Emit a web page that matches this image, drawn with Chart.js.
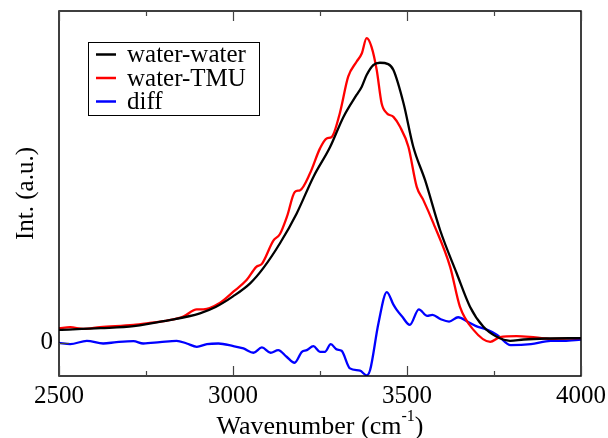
<!DOCTYPE html>
<html>
<head>
<meta charset="utf-8">
<script src="https://cdn.jsdelivr.net/npm/chart.js@4"></script>
<style>
  body { margin: 0; background: #fff; }
  #wrap { width: 608px; height: 438px; }
</style>
</head>
<body>
<div id="wrap"><canvas id="spec"></canvas></div>
<script>
'use strict';

// water-water
var wwWave = [2500, 2620, 2715, 2810, 2905, 2950, 3000, 3050, 3087, 3135, 3183, 3231, 3279, 3317, 3355, 3370, 3384, 3403, 3422, 3446, 3461, 3490, 3518, 3552, 3595, 3643, 3681, 3719, 3758, 3796, 3835, 3900, 4000];
var wwInt  = [0.39, 0.44, 0.50, 0.67, 0.89, 1.08, 1.40, 1.80, 2.25, 3.00, 3.90, 5.00, 5.90, 6.80, 7.47, 7.72, 8.07, 8.37, 8.44, 8.40, 8.22, 7.22, 5.91, 4.90, 3.40, 2.09, 1.09, 0.49, 0.18, 0.06, 0.10, 0.13, 0.14];

// water-TMU
var tmuWave = [2500, 2532, 2570, 2618, 2714, 2761, 2810, 2857, 2896, 2915, 2963, 3001, 3039, 3067, 3083, 3116, 3135, 3155, 3178, 3193, 3221, 3250, 3269, 3284, 3307, 3331, 3355, 3370, 3384, 3398, 3413, 3427, 3442, 3461, 3480, 3504, 3528, 3547, 3576, 3624, 3652, 3691, 3739, 3767, 3815, 3853, 3911, 4000];
var tmuInt  = [0.44, 0.47, 0.42, 0.47, 0.54, 0.60, 0.67, 0.79, 1.01, 1.01, 1.21, 1.54, 1.89, 2.29, 2.38, 3.08, 3.28, 3.80, 4.55, 4.60, 5.10, 5.86, 6.16, 6.21, 6.92, 8.02, 8.47, 8.72, 9.18, 8.92, 8.22, 7.22, 6.92, 6.81, 6.51, 5.91, 4.70, 4.30, 3.60, 2.29, 1.09, 0.39, 0.03, 0.17, 0.20, 0.18, 0.12, 0.14];

// diff
var diffWave = [2500, 2532, 2580, 2627, 2665, 2714, 2742, 2790, 2838, 2867, 2896, 2925, 2958, 3001, 3030, 3059, 3083, 3108, 3130, 3154, 3177, 3198, 3212, 3231, 3250, 3264, 3281, 3298, 3312, 3336, 3365, 3384, 3394, 3418, 3442, 3461, 3470, 3486, 3508, 3534, 3558, 3573, 3597, 3621, 3647, 3673, 3697, 3731, 3759, 3798, 3856, 3913, 3951, 4000];
var diffInt  = [0.00, -0.04, 0.06, -0.02, 0.02, 0.05, -0.02, 0.02, 0.06, -0.02, -0.12, -0.04, -0.02, -0.10, -0.17, -0.30, -0.14, -0.30, -0.22, -0.42, -0.60, -0.27, -0.22, -0.10, -0.27, -0.27, -0.04, -0.20, -0.24, -0.77, -0.84, -0.98, -0.82, 0.59, 1.53, 1.15, 1.00, 0.79, 0.54, 1.01, 0.81, 0.84, 0.71, 0.64, 0.77, 0.64, 0.51, 0.39, 0.24, -0.07, -0.04, 0.06, 0.06, 0.10];

var xTicks = [2500, 3000, 3500, 4000];
var yTicks = [0];

function pts(xs, ys) {
  return xs.map(function(x, i) { return { x: x, y: ys[i] }; });
}

var SERIF = '"Liberation Serif", "DejaVu Serif", serif';

//枠・目盛・凡例・軸タイトルを描く
var decor = {
  id: 'decor',
  afterDraw: function(chart) {
    var c = chart.ctx, a = chart.chartArea;
    var xs = chart.scales.x, ys = chart.scales.y;
    c.save();
    c.strokeStyle = '#000';
    c.lineWidth = 1.5;
    c.strokeRect(a.left, a.top, a.right - a.left, a.bottom - a.top);

    // x ticks (inward, top and bottom)
    c.lineWidth = 1.2;
    c.strokeStyle = '#444';
    for (var v = 2500; v <= 4000; v += 250) {
      var px = Math.round(xs.getPixelForValue(v)) + 0.5;
      var len = (v % 500 === 0) ? 10 : 5;
      c.beginPath();
      c.moveTo(px, a.bottom); c.lineTo(px, a.bottom - len);
      c.moveTo(px, a.top); c.lineTo(px, a.top + len);
      c.stroke();
    }
    // y tick at 0
    yTicks.forEach(function(t) {
      var py = Math.round(ys.getPixelForValue(t)) + 0.5;
      c.beginPath();
      c.moveTo(a.left, py); c.lineTo(a.left + 10, py);
      c.stroke();
    });

    // legend
    var names = chart.data.datasets.map(function(d) { return d.label; });
    c.strokeStyle = '#000';
    c.lineWidth = 1;
    c.strokeRect(88.5, 42.5, 171, 73);
    c.font = '25px ' + SERIF;
    c.textBaseline = 'middle';
    c.fillStyle = '#000';
    names.forEach(function(n, i) {
      var y = 54.5 + i * 23.5;
      c.strokeStyle = chart.data.datasets[i].borderColor;
      c.lineWidth = 2.5;
      c.beginPath(); c.moveTo(96, y); c.lineTo(116, y); c.stroke();
      c.fillText(n, 127, y + 1);
    });

    // x title with superscript
    c.textBaseline = 'alphabetic';
    c.textAlign = 'left';
    var main = 'Wavenumber (cm', sup = '-1', close = ')';
    c.font = '26px ' + SERIF;
    var w1 = c.measureText(main).width, w3 = c.measureText(close).width;
    c.font = '16px ' + SERIF;
    var w2 = c.measureText(sup).width;
    var x0 = (a.left + a.right) / 2 - (w1 + w2 + w3) / 2;
    c.font = '26px ' + SERIF;
    c.fillText(main, x0, 434);
    c.font = '16px ' + SERIF;
    c.fillText(sup, x0 + w1, 421);
    c.font = '26px ' + SERIF;
    c.fillText(close, x0 + w1 + w2, 434);

    // y title
    c.translate(33, (a.top + a.bottom) / 2);
    c.rotate(-Math.PI / 2);
    c.textAlign = 'center';
    c.font = '25px ' + SERIF;
    c.fillText('Int. (a.u.)', 0, 0);
    c.restore();
  }
};

var ctx = document.getElementById('spec');
var myChart = new Chart(ctx, {
  type: 'line',
  data: {
    datasets: [
      { label: 'water-water', data: pts(wwWave, wwInt), borderColor: '#000000' },
      { label: 'water-TMU', data: pts(tmuWave, tmuInt), borderColor: '#ff0000' },
      { label: 'diff', data: pts(diffWave, diffInt), borderColor: '#0000ff' }
    ]
  },
  options: {
    responsive: true,
    maintainAspectRatio: false,
    animation: false,
    layout: { padding: { top: 11, right: 27, left: 0, bottom: 0 } },
    elements: {
      line: { borderWidth: 2.3, cubicInterpolationMode: 'monotone', fill: false },
      point: { radius: 0 }
    },
    plugins: { legend: { display: false }, tooltip: { enabled: false } },
    scales: {
      x: {
        type: 'linear',
        min: 2500,
        max: 4000,
        afterFit: function(s) { s.height = 62; s.paddingLeft = 0; s.paddingRight = 0; },
        afterBuildTicks: function(s) { s.ticks = xTicks.map(function(v) { return { value: v }; }); },
        grid: { display: false, drawTicks: false },
        border: { display: false },
        ticks: {
          padding: 5, color: '#000', maxRotation: 0, autoSkip: false,
          font: { family: SERIF, size: 25 },
          callback: function(v) { return String(v); }
        }
      },
      y: {
        min: -1,
        max: 10,
        afterFit: function(s) { s.width = 59; s.paddingTop = 0; s.paddingBottom = 0; },
        afterBuildTicks: function(s) { s.ticks = yTicks.map(function(v) { return { value: v }; }); },
        grid: { display: false, drawTicks: false },
        border: { display: false },
        ticks: {
          padding: 6, color: '#000',
          font: { family: SERIF, size: 25 },
          callback: function(v) { return String(v); }
        }
      }
    }
  },
  plugins: [decor]
});
</script>
</body>
</html>
